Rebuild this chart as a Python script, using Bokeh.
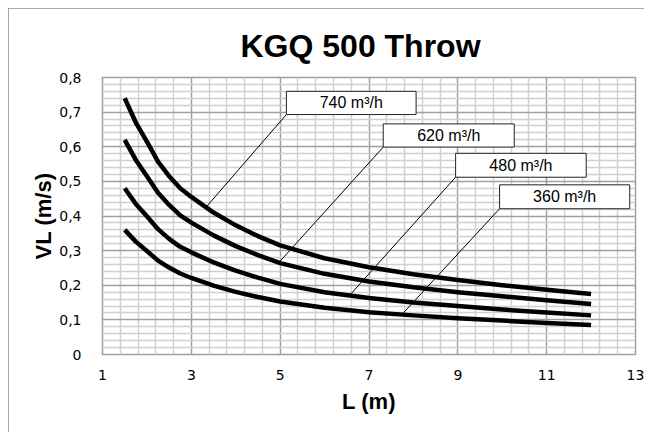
from bokeh.plotting import figure
from bokeh.models import Range1d, FixedTicker, ColumnDataSource
from bokeh.embed import file_html
from bokeh.resources import INLINE
from bokeh.core.properties import value
import numpy as np

# ---- data ----
L = [1.5, 1.75, 2, 2.25, 2.5, 2.75, 3, 3.5, 4, 4.5, 5, 6, 7, 8, 9, 10, 11, 12]
v740 = [0.740, 0.670, 0.615, 0.557, 0.515, 0.480, 0.455, 0.410, 0.373, 0.342, 0.315, 0.278, 0.252, 0.232, 0.215, 0.200, 0.187, 0.175]
v620 = [0.620, 0.562, 0.515, 0.467, 0.432, 0.402, 0.381, 0.344, 0.313, 0.287, 0.264, 0.233, 0.211, 0.194, 0.180, 0.168, 0.157, 0.146]
v480 = [0.480, 0.435, 0.399, 0.362, 0.334, 0.311, 0.295, 0.266, 0.242, 0.222, 0.204, 0.180, 0.163, 0.150, 0.140, 0.130, 0.121, 0.113]
v360 = [0.360, 0.326, 0.299, 0.271, 0.251, 0.234, 0.221, 0.199, 0.181, 0.166, 0.153, 0.135, 0.122, 0.113, 0.105, 0.098, 0.091, 0.085]

series_labels = ["740 m³/h", "620 m³/h", "480 m³/h", "360 m³/h"]
box_x0 = [5.14, 7.32, 8.95, 9.94]
box_x1 = [8.06, 10.27, 11.89, 12.87]
box_y0 = [0.693, 0.599, 0.512, 0.421]
box_y1 = [0.760, 0.666, 0.581, 0.490]
leader_L = [3.33, 4.97, 6.56, 7.74]

x_ticks = [1, 3, 5, 7, 9, 11, 13]
y_ticks = [0, 0.1, 0.2, 0.3, 0.4, 0.5, 0.6, 0.7, 0.8]
y_tick_labels = ["0", "0,1", "0,2", "0,3", "0,4", "0,5", "0,6", "0,7", "0,8"]

p = figure(width=636, height=424, output_backend="svg", toolbar_location=None,
           x_range=Range1d(1, 13), y_range=Range1d(0, 0.8),
           min_border_left=94, min_border_right=9, min_border_top=69, min_border_bottom=78)
p.styles = {"margin": "8px 0 0 8px", "outline": "1px solid #8c8c8c", "outline-offset": "-1px"}

p.title.text = "KGQ 500 Throw"
p.title.text_font = "Liberation Sans"
p.title.text_font_size = "32px"
p.title.text_font_style = "bold"
p.title.text_color = "black"
p.title.align = "left"
p.title.offset = 138
p.title.standoff = 28

x_minor = [round(1 + 0.4 * i, 2) for i in range(31) if i % 5 != 0]
y_minor = [round(0.02 * i, 2) for i in range(41) if i % 5 != 0]
p.xaxis.ticker = FixedTicker(ticks=x_ticks, minor_ticks=x_minor)
p.yaxis.ticker = FixedTicker(ticks=y_ticks, minor_ticks=y_minor)
p.yaxis.major_label_overrides = {t: s for t, s in zip(y_ticks, y_tick_labels)}

for ax in (p.xaxis, p.yaxis):
    ax.axis_line_color = None
    ax.major_tick_line_color = None
    ax.minor_tick_line_color = None
    ax.major_label_text_font = "DejaVu Sans"
    ax.major_label_text_font_size = "14px"
    ax.major_label_text_color = "#000000"
    ax.axis_label_text_font = "Liberation Sans"
    ax.axis_label_text_font_style = "bold"
    ax.axis_label_text_font_size = "22px"
    ax.axis_label_text_color = "#000000"
p.xaxis.major_label_standoff = 9
p.yaxis.major_label_standoff = 15
p.xaxis.axis_label = "L (m)"
p.yaxis.axis_label = "VL (m/s)"
p.xaxis.axis_label_standoff = 6
p.yaxis.axis_label_standoff = 0

for g in (p.xgrid, p.ygrid):
    g.grid_line_color = "#a0a0a0"
    g.grid_line_width = 1.5
    g.minor_grid_line_color = "#d0d0d0"
    g.minor_grid_line_width = 1.5
p.outline_line_color = "#a0a0a0"
p.outline_line_width = 1.5

curves = [v740, v620, v480, v360]
for ys in curves:
    p.line(L, ys, line_color="black", line_width=4.5, line_join="round", line_cap="butt")

lx0, ly0, lx1, ly1 = [], [], [], []
for i, c in enumerate(curves):
    lx0.append(box_x0[i]); ly0.append(box_y0[i])
    lx1.append(leader_L[i]); ly1.append(float(np.interp(leader_L[i], L, c)))
p.segment(x0=lx0, y0=ly0, x1=lx1, y1=ly1, line_color="black", line_width=1)

src = ColumnDataSource(dict(left=box_x0, right=box_x1, bottom=box_y0, top=box_y1,
                            cx=[(a + b) / 2 for a, b in zip(box_x0, box_x1)],
                            cy=[(a + b) / 2 for a, b in zip(box_y0, box_y1)],
                            txt=series_labels))
p.quad(left="left", right="right", bottom="bottom", top="top", source=src,
       fill_color="white", line_color="#222222", line_width=1)
p.text(x="cx", y="cy", text="txt", source=src, text_align="center", text_baseline="middle",
       text_font=value("Liberation Sans"), text_font_size="16px", text_color="black")

open("out.html", "w").write(file_html(p, INLINE))
